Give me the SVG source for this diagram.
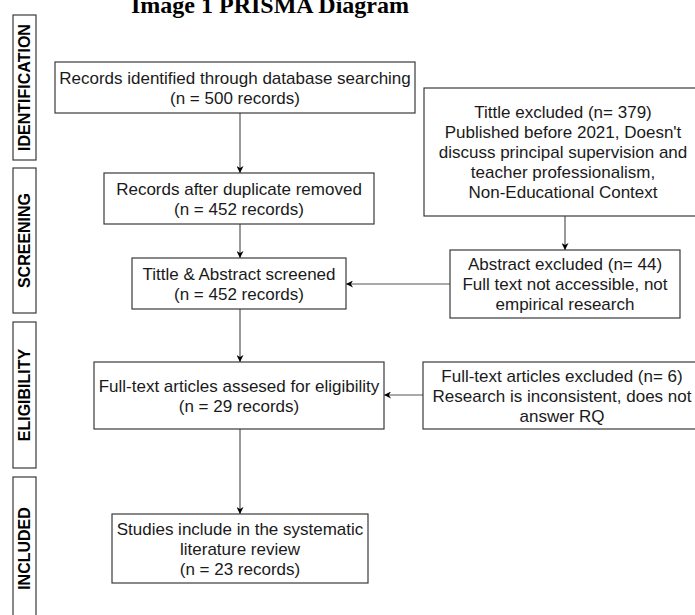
<svg xmlns="http://www.w3.org/2000/svg" width="695" height="615" viewBox="0 0 695 615">
<defs>
<marker id="ah" viewBox="0 0 10 10" refX="10" refY="5" markerWidth="7" markerHeight="7" markerUnits="userSpaceOnUse" orient="auto">
<path d="M0,0 L10,5 L0,10 L3,5 Z" fill="#000"/>
</marker>
<style>
.box{fill:#fff;stroke:#3a3a3a;stroke-width:1.2}
.t{font-family:"Liberation Sans",Arial,sans-serif;font-size:17px;fill:#1a1a1a;text-anchor:middle}
.st{font-family:"Liberation Sans",Arial,sans-serif;font-size:16px;font-weight:bold;fill:#000;text-anchor:middle}
.c{fill:none;stroke:#555;stroke-width:1.2;marker-end:url(#ah)}
.title{font-family:"Liberation Serif","Times New Roman",serif;font-size:24px;font-weight:bold;fill:#000;text-anchor:middle}
</style>
</defs>
<rect width="695" height="615" fill="#fff"/>
<text class="title" x="270" y="13">Image 1 PRISMA Diagram</text>

<g id="stage-identification">
<rect class="box" x="13" y="15" width="23" height="145"/>
<text class="st" transform="translate(30,87.5) rotate(-90)">IDENTIFICATION</text>
</g>
<g id="stage-screening">
<rect class="box" x="13" y="168" width="23" height="145"/>
<text class="st" transform="translate(30,240.5) rotate(-90)">SCREENING</text>
</g>
<g id="stage-eligibility">
<rect class="box" x="13" y="322" width="23" height="146"/>
<text class="st" transform="translate(30,395) rotate(-90)">ELIGIBILITY</text>
</g>
<g id="stage-included">
<rect class="box" x="13" y="477" width="23" height="150"/>
<text class="st" transform="translate(30,548.5) rotate(-90)">INCLUDED</text>
</g>

<g id="connectors">
<line class="c" x1="240" y1="113" x2="240" y2="173"/>
<line class="c" x1="240" y1="224" x2="240" y2="258"/>
<line class="c" x1="240" y1="309" x2="240" y2="362"/>
<line class="c" x1="240" y1="429" x2="240" y2="514"/>
<line class="c" x1="565" y1="216" x2="565" y2="250"/>
<line class="c" x1="450" y1="284" x2="346" y2="284"/>
<line class="c" x1="423" y1="395" x2="384" y2="395"/>
</g>

<g id="records-identified">
<rect class="box" x="55" y="62" width="360" height="51"/>
<text class="t" x="235" y="83.5">Records identified through database searching</text>
<text class="t" x="235" y="103.5">(n = 500 records)</text>
</g>
<g id="records-after-duplicates">
<rect class="box" x="104" y="173" width="270" height="51"/>
<text class="t" x="239" y="194.5">Records after duplicate removed</text>
<text class="t" x="239" y="214.5">(n = 452 records)</text>
</g>
<g id="title-abstract-screened">
<rect class="box" x="132" y="258" width="214" height="51"/>
<text class="t" x="239" y="279.5">Tittle &amp; Abstract screened</text>
<text class="t" x="239" y="299.5">(n = 452 records)</text>
</g>
<g id="fulltext-assessed">
<rect class="box" x="94" y="362" width="290" height="67"/>
<text class="t" x="239" y="391.5">Full-text articles assesed for eligibility</text>
<text class="t" x="239" y="411.5">(n = 29 records)</text>
</g>
<g id="studies-included">
<rect class="box" x="112" y="514" width="256" height="69"/>
<text class="t" x="240" y="534.5">Studies include in the systematic</text>
<text class="t" x="240" y="554.5">literature review</text>
<text class="t" x="240" y="574.5">(n = 23 records)</text>
</g>
<g id="title-excluded">
<rect class="box" x="424" y="88" width="278" height="128"/>
<text class="t" x="563" y="118">Tittle excluded (n= 379)</text>
<text class="t" x="563" y="138">Published before 2021, Doesn't</text>
<text class="t" x="563" y="158">discuss principal supervision and</text>
<text class="t" x="563" y="178">teacher professionalism,</text>
<text class="t" x="563" y="198">Non-Educational Context</text>
</g>
<g id="abstract-excluded">
<rect class="box" x="450" y="250" width="230" height="68"/>
<text class="t" x="565" y="270">Abstract excluded (n= 44)</text>
<text class="t" x="565" y="290">Full text not accessible, not</text>
<text class="t" x="565" y="310">empirical research</text>
</g>
<g id="fulltext-excluded">
<rect class="box" x="423" y="362" width="279" height="67"/>
<text class="t" x="562" y="381.5">Full-text articles excluded (n= 6)</text>
<text class="t" x="562" y="401.5">Research is inconsistent, does not</text>
<text class="t" x="562" y="421.5">answer RQ</text>
</g>
</svg>
